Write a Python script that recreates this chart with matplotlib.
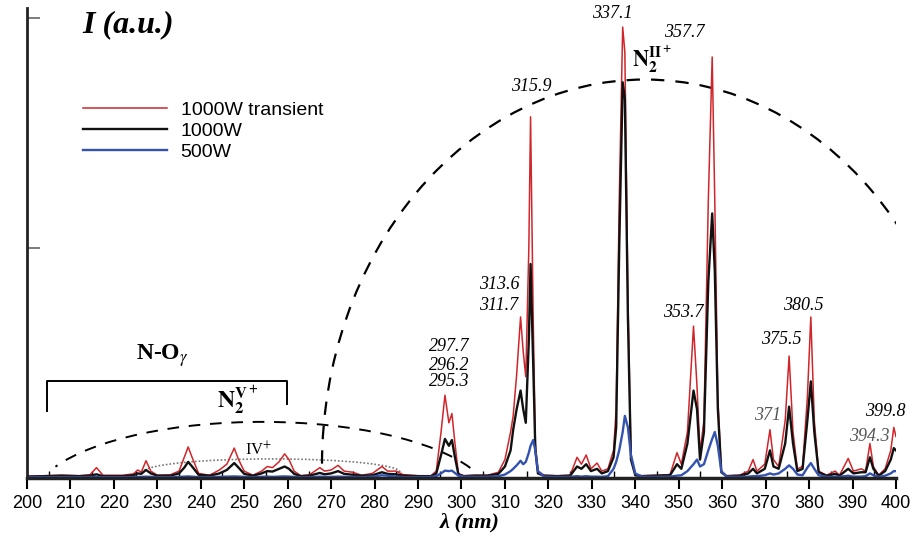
import numpy as np
import matplotlib.pyplot as plt
from matplotlib.patches import Arc

plt.rcParams['mathtext.fontset'] = 'stix'

# wavelength grid (nm) and the three spectra (a.u.)
lam = [200, 204, 208, 212, 214.5, 216, 217.5, 222, 224.5, 225.5, 226.3, 227.4, 228.5, 230,
       233, 235, 236.2, 237.1, 238, 239.5, 242, 244.3, 246, 247.7, 248.7, 250, 252, 254,
       255.3, 256.5, 258, 259.3, 260.3, 261.5, 263, 265, 267.4, 268.5, 270, 271.6, 273, 275,
       277, 279.5, 281.7, 283, 285, 286.5, 290, 293, 294.2, 295.3, 296.2, 297.1, 297.8,
       298.5, 299.3, 300.5, 303, 306, 308.5, 310, 311.3, 311.9, 312.7, 313.6, 314.2, 314.8,
       315.5, 315.9, 316.5, 317.0, 317.6, 319, 322, 325, 326.6, 327.6, 328.7, 329.8, 331.2,
       332.3, 333.7, 335, 335.6, 336.3, 337.1, 337.6, 338.3, 339, 340, 341.5, 345, 348, 349.6,
       350.6, 352, 353.4, 354.2, 354.9, 355.8, 356.8, 357.7, 358.3, 359, 359.8, 361, 364,
       366, 367.1, 368, 369.8, 371.0, 371.8, 373, 374.5, 375.4, 376.3, 377.3, 378.5, 379.6,
       380.4, 381.2, 382.2, 384, 386, 387, 389, 390.2, 392, 393, 394.0, 394.8, 396, 397.5,
       398.8, 399.5, 400]

i_trans = [.008, .010, .012, .010, .014, .045, .012, .012, .018, .035, .025, .075, .030, .012,
           .014, .030, .090, .135, .090, .020, .012, .035, .060, .130, .080, .030, .012, .030,
           .050, .045, .070, .105, .080, .030, .010, .014, .045, .030, .035, .055, .030, .025,
           .012, .020, .050, .030, .030, .015, .010, .010, .030, .200, .360, .240, .280,
           .150, .020, .010, .012, .012, .025, .080, .200, .270, .450, .700, .550, .440,
           1.00, 1.57, .700, .150, .030, .012, .010, .012, .090, .060, .100, .040, .065,
           .030, .040, .120, .300, 1.20, 1.96, 1.85, .800, .100, .015, .010, .012, .015, .110,
           .060, .200, .660, .400, .110, .250, 1.20, 1.83, 1.20, .350, .030, .010, .012,
           .030, .080, .030, .060, .210, .080, .050, .250, .530, .200, .040, .050, .350,
           .700, .250, .030, .012, .030, .012, .085, .030, .040, .030, .150, .050, .012, .040,
           .120, .220, .180]

i_1000 = [.006, .008, .010, .008, .010, .016, .008, .008, .012, .020, .018, .035, .020, .010,
          .010, .020, .045, .070, .050, .014, .010, .020, .035, .065, .045, .018, .010, .020,
          .030, .028, .040, .050, .040, .018, .008, .010, .022, .016, .020, .030, .018, .014,
          .010, .012, .025, .018, .016, .010, .008, .008, .020, .100, .170, .140, .165,
          .090, .015, .008, .010, .010, .018, .050, .120, .210, .300, .380, .300, .240,
          .600, .930, .500, .120, .020, .010, .008, .010, .050, .040, .060, .030, .040,
          .020, .030, .090, .220, 1.00, 1.72, 1.65, .700, .080, .012, .008, .010, .012, .060,
          .040, .150, .380, .300, .080, .200, .850, 1.15, .900, .300, .025, .008, .010,
          .020, .040, .020, .040, .120, .050, .040, .150, .310, .150, .030, .040, .250,
          .420, .200, .025, .010, .018, .010, .040, .020, .025, .025, .090, .040, .010, .030,
          .080, .130, .120]

i_500 = [.004, .004, .004, .004, .004, .005, .004, .004, .004, .005, .005, .006, .005, .004,
         .004, .005, .006, .007, .006, .004, .004, .005, .006, .007, .006, .005, .004, .005,
         .006, .005, .006, .007, .006, .005, .004, .004, .006, .005, .005, .006, .005, .005,
         .004, .006, .012, .010, .006, .004, .004, .005, .008, .020, .032, .030, .032,
         .022, .010, .006, .005, .005, .008, .015, .030, .040, .055, .075, .060, .070,
         .110, .140, .165, .120, .030, .006, .005, .005, .008, .006, .008, .006, .006,
         .005, .008, .040, .070, .120, .200, .270, .220, .100, .020, .006, .005, .006, .010,
         .012, .030, .060, .080, .050, .060, .120, .170, .200, .140, .030, .006, .005,
         .006, .008, .008, .012, .020, .015, .020, .040, .055, .040, .015, .012, .045,
         .065, .040, .012, .005, .006, .005, .010, .006, .006, .008, .020, .012, .005, .010,
         .020, .030, .030]

series_labels = ['1000W transient', '1000W', '500W']
series_colors = ['#d0262b', '#111111', '#3453b0']

# peak labels: text, position (nm, a.u.), colour
peak_text = ['337.1', '357.7', '315.9', '313.6', '311.7', '297.7', '296.2', '295.3',
             '353.7', '380.5', '375.5', '371', '394.3', '399.8']
peak_x = [334.6, 351.2, 316.0, 308.6, 308.6, 297.1, 297.1, 297.1,
          351.0, 378.6, 373.5, 370.5, 393.8, 397.5]
peak_y = [2.02, 1.935, 1.70, 0.84, 0.75, 0.57, 0.49, 0.42,
          0.72, 0.75, 0.60, 0.27, 0.18, 0.29]
peak_col = ['k'] * 11 + ['#555555', '#555555', 'k']

# N-O gamma bracket
brk_x = [204.6, 204.6, 259.8, 259.8]
brk_y = [0.29, 0.42, 0.42, 0.32]

serif = 'Liberation Serif'
sans = 'Liberation Sans'

fig = plt.figure(figsize=(9.14, 5.4), dpi=100)
ax = fig.add_axes([0.0295, 0.1148, 0.9508, 0.8704])

for y, lab, c, lw in zip([i_trans, i_1000, i_500], series_labels, series_colors, [1.1, 1.7, 1.7]):
    ax.plot(lam, y, color=c, lw=lw, label=lab)

# envelopes
ax.add_patch(Arc((342.2, 0.057), 148.6, 3.35, theta1=0, theta2=180,
                 ls=(0, (6, 5)), lw=1.6, color='k'))


def true_angle(t, a, b):
    return np.degrees(np.arctan2(b * np.sin(np.radians(t)), a * np.cos(np.radians(t))))


a5, b5 = 52.9, 0.347
ax.add_patch(Arc((254.1, -0.103), 2 * a5, 2 * b5,
                 theta1=true_angle(25, a5, b5), theta2=true_angle(154, a5, b5),
                 ls=(0, (6, 5)), lw=1.4, color='k'))
ax.add_patch(Arc((256.3, 0.026), 59, 0.114, theta1=0, theta2=180,
                 ls=(0, (1, 1.2)), lw=1.2, color='#777777'))

ax.plot(brk_x, brk_y, color='k', lw=1.4)

for t, x, y, c in zip(peak_text, peak_x, peak_y, peak_col):
    ax.text(x, y, t, ha='center', va='center', fontsize=13, color=c,
            family=serif, style='italic')

ax.text(212.7, 1.97, 'I (a.u.)', ha='left', va='center', fontsize=23,
        family=serif, style='italic', weight='bold')
ax.text(343.8, 1.82, r'$\mathbf{N_2^{II^+}}$', ha='center', va='center', fontsize=16)
ax.text(231.1, 0.53, r'N-O$_{\gamma}$', ha='center', va='center', fontsize=17,
        family=serif, weight='bold')
ax.text(248.6, 0.34, r'$\mathbf{N_2^{V^+}}$', ha='center', va='center', fontsize=17)
ax.text(253.2, 0.12, r'IV$^{+}$', ha='center', va='center', fontsize=12, family=serif)

ax.set_xlim(200, 400)
ax.set_ylim(0, 2.043)
ax.set_xticks(np.arange(200, 401, 10))
ax.set_xticks(np.arange(205, 400, 10), minor=True)
ax.set_yticks([1, 2])
ax.set_yticklabels([])
ax.tick_params(axis='x', which='major', direction='out', length=8, width=1.5,
               labelsize=13, pad=4)
ax.tick_params(axis='x', which='minor', direction='in', length=5, width=1)
ax.tick_params(axis='y', direction='in', length=9, width=1.2, color='#666666')
for lab in ax.get_xticklabels():
    lab.set_family(sans)
for s in ['top', 'right']:
    ax.spines[s].set_visible(False)
ax.spines['left'].set_linewidth(2)
ax.spines['bottom'].set_linewidth(2.5)
ax.spines['left'].set_color('#222222')
ax.spines['bottom'].set_color('#222222')

fig.text(470 / 914, 1 - 522 / 540, 'λ (nm)', ha='center', va='center', fontsize=16,
         family=serif, style='italic', weight='bold')

ax.legend(loc='upper left', bbox_to_anchor=(83 / 914, 1 - 101 / 540),
          bbox_transform=fig.transFigure, frameon=False, borderpad=0, borderaxespad=0,
          handlelength=4.3, handletextpad=0.72, labelspacing=0.18,
          prop={'family': sans, 'size': 14})

fig.savefig('out.png', dpi=100)
